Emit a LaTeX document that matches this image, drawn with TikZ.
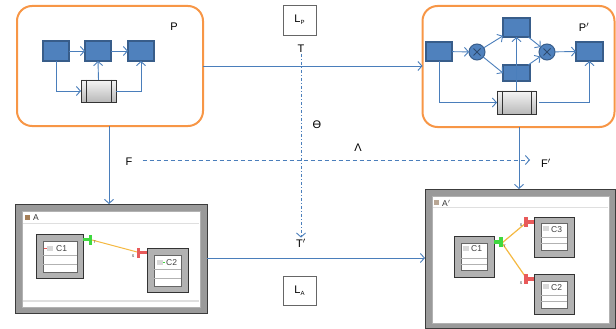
\documentclass[tikz,border=0pt]{standalone}
\usepackage{fontspec}
\setmainfont{Liberation Sans}
\usetikzlibrary{arrows.meta}
\definecolor{orng}{HTML}{F79646}
\definecolor{bfill}{HTML}{4F81BD}
\definecolor{bdark}{HTML}{385D8A}
\definecolor{lblue}{HTML}{4A7EBB}
\definecolor{frameg}{HTML}{9A9A9A}
\definecolor{framed}{HTML}{3C3C3C}
\definecolor{yel}{HTML}{F5B942}
\definecolor{grn}{HTML}{3FD83F}
\definecolor{rd}{HTML}{E85A5A}
\tikzset{
  orangebox/.style={draw=orng, line width=2pt, rounded corners=15pt, inner sep=0pt, outer sep=0pt},
  bsq/.style={draw=bdark, fill=bfill, line width=1.2pt, inner sep=0pt, outer sep=0pt},
  store/.style={draw=black!80, line width=0.6pt, top color=gray!8, bottom color=gray!55, inner sep=0pt, outer sep=0pt},
  xcirc/.style={circle, draw=bdark, fill=bfill, line width=1pt, minimum size=16pt, inner sep=0pt, outer sep=0pt,
    path picture={\draw[bdark!80!black, line width=0.8pt] (path picture bounding box.north west)++(4.5pt,-4.5pt) -- ++(7pt,-7pt)
      (path picture bounding box.north east)++(-4.5pt,-4.5pt) -- ++(-7pt,-7pt);}},
  flow/.style={draw=lblue, line width=0.9pt, -{Straight Barb[length=4pt,width=9pt]}},
  lbl/.style={font=\fontsize{11}{13}\selectfont, inner sep=1pt},
  lbox/.style={draw=black!60, line width=0.6pt, font=\fontsize{11}{13}\selectfont, inner sep=0pt, outer sep=0pt},
  winframe/.style={draw=framed, fill=frameg, line width=1pt, inner sep=0pt, outer sep=0pt},
  compframe/.style={draw=black!80, fill=gray!60, line width=0.8pt, inner sep=0pt, outer sep=0pt},
  ctext/.style={font=\fontsize{8.5}{10}\selectfont, text=black!75, inner sep=0pt},
  tiny/.style={font=\fontsize{5}{6}\selectfont, text=black!70, inner sep=0pt}
}
\begin{document}
\begin{tikzpicture}[x=1pt,y=-1pt]
\useasboundingbox (0,0) rectangle (616,329);

% ---------- P ----------
\node[orangebox, minimum width=186pt, minimum height=120pt] (P) at (110,66) {};
\node[lbl] (Pl) at (174,27) {P};
\node[bsq, minimum width=26pt, minimum height=20pt] (s1) at (56,51) {};
\node[bsq, minimum width=26pt, minimum height=20pt] (s2) at (98,51) {};
\node[bsq, minimum width=26pt, minimum height=20pt] (s3) at (141,51) {};
\node[store, minimum width=35pt, minimum height=22pt] (st1) at (98.5,91) {};
\draw[black!80, line width=0.6pt] ([xshift=5pt]st1.north west) -- ([xshift=5pt]st1.south west)
  ([xshift=-5pt]st1.north east) -- ([xshift=-5pt]st1.south east);
\draw[flow] (s1) -- (s2);
\draw[flow] (s2) -- (s3);
\draw[flow] (s1.south) |- (st1.west);
\draw[flow] (st1.north) -- (s2.south);
\draw[flow] (st1.east) -| (s3.south);

% ---------- P' ----------
\node[orangebox, minimum width=192pt, minimum height=121pt] (Pp) at (518.5,66.5) {};
\node[lbl] (Ppl) at (584,27) {P$'$};
\node[bsq, minimum width=26pt, minimum height=19pt] (a1) at (439,51.5) {};
\node[xcirc] (c1) at (477,52) {};
\node[bsq, minimum width=27pt, minimum height=19pt] (t1) at (516.5,27.5) {};
\node[bsq, minimum width=27pt, minimum height=16pt] (m1) at (516.5,73) {};
\node[xcirc] (c2) at (547,52) {};
\node[bsq, minimum width=27pt, minimum height=19pt] (r1) at (589.5,51.5) {};
\node[store, minimum width=39pt, minimum height=23pt] (st2) at (516.5,102.5) {};
\draw[black!80, line width=0.6pt] ([xshift=5pt]st2.north west) -- ([xshift=5pt]st2.south west)
  ([xshift=-5pt]st2.north east) -- ([xshift=-5pt]st2.south east);
\draw[flow] (a1) -- (c1);
\draw[flow] (c1) -- (t1);
\draw[flow] (c1) -- (m1.west);
\draw[flow] (t1) -- (c2);
\draw[flow] (m1) -- (c2);
\draw[flow] (c2) -- (r1.west);
\draw[flow] (st2.north) -- (t1.south);
\draw[flow] (a1.south) |- (st2.west);
\draw[flow] ([xshift=3pt]st2.east) -| (r1.south);

% ---------- labels in the middle ----------
\node[lbox, minimum width=33pt, minimum height=30pt] (LP) at (299.5,20) {L\raisebox{-0.35ex}{\fontsize{6}{7}\selectfont P}};
\node[lbox, minimum width=33pt, minimum height=29pt] (LA) at (299.5,290.5) {L\raisebox{-0.35ex}{\fontsize{6}{7}\selectfont A}};
\node[lbl] (T) at (301,49) {T};
\node[lbl] (Tp) at (301,243) {T$'$};
\node[lbl] (Th) at (317,125) {ϴ};
\node[lbl] (La) at (358,148) {Λ};
\node[lbl] (F) at (129,162) {F};
\node[lbl] (Fp) at (546,163) {F$'$};

% ---------- window A ----------
\node[winframe, minimum width=192pt, minimum height=109pt] (A) at (111,258.5) {};
\fill[white, draw=gray!60, line width=0.4pt] (22,211) rectangle (200,307);
\draw[gray!25, line width=1.5pt] (23,223.5) -- (199,223.5) (23,301) -- (199,301);
\fill[brown!60!gray] (25,215) rectangle (30,220);
\node[font=\fontsize{8.5}{10}\selectfont, text=black!80, anchor=west, inner sep=0pt] (At) at (33,218) {A};
\node[compframe, minimum width=47pt, minimum height=44pt] (Ac1) at (59.5,256) {};
\fill[white, draw=black!60, line width=0.4pt] (43,241) rectangle (77,272);
\draw[gray!60, line width=0.5pt] (43,255) -- (77,255) (43,264) -- (77,264);
\fill[gray!30] (47,246) rectangle (53,251);
\fill[rd] (44,248) rectangle (47,249);
\node[ctext, anchor=west] (Ac1t) at (56,248.5) {C1};
\node[compframe, minimum width=41pt, minimum height=44pt] (Ac2) at (167.5,270) {};
\fill[white, draw=black!60, line width=0.4pt] (154,255) rectangle (181,286);
\draw[gray!60, line width=0.5pt] (154,269) -- (181,269) (154,278) -- (181,278);
\fill[gray!30] (157,260) rectangle (163,265);
\fill[grn] (163,262) rectangle (165,263);
\node[ctext, anchor=west] (Ac2t) at (166,262.5) {C2};
% ports and connector
\coordinate (gpA) at (92,240);
\coordinate (rpA) at (139,252.5);
\draw[yel, line width=1pt] (gpA) -- (rpA);
\fill[grn] (83,237.5) rectangle (90,240.5);
\fill[grn] (89,235) rectangle (92,245);
\fill[rd] (140,250.5) rectangle (147,253.5);
\fill[rd] (137,248) rectangle (140,258);
\node[tiny] at (95,242.5) {r};
\node[tiny] at (133,256) {s};

% ---------- window A' ----------
\node[winframe, minimum width=190pt, minimum height=139pt] (Ap) at (520,258.5) {};
\fill[white, draw=gray!60, line width=0.4pt] (432,196) rectangle (609,323);
\draw[gray!25, line width=1pt] (433,207.5) -- (608,207.5);
\fill[brown!40!gray!70] (434,200) rectangle (439,205);
\node[font=\fontsize{8.5}{10}\selectfont, text=black!80, anchor=west, inner sep=0pt] (Apt) at (442,203) {A$'$};
% C1
\node[compframe, minimum width=40pt, minimum height=41pt] (Bc1) at (474,256.5) {};
\fill[white, draw=black!60, line width=0.4pt] (461,243) rectangle (487,270);
\draw[gray!60, line width=0.5pt] (461,258) -- (487,258) (461,264) -- (487,264);
\fill[gray!30] (463,246) rectangle (469,251);
\node[ctext, anchor=west] (Bc1t) at (471,249) {C1};
% C3
\node[compframe, minimum width=40pt, minimum height=40pt] (Bc3) at (554,237) {};
\fill[white, draw=black!60, line width=0.4pt] (541,223) rectangle (567,250);
\draw[gray!60, line width=0.5pt] (541,237) -- (567,237) (541,243) -- (567,243);
\fill[gray!30] (543,226) rectangle (549,231);
\node[ctext, anchor=west] (Bc3t) at (551,229.5) {C3};
% C2
\node[compframe, minimum width=40pt, minimum height=40pt] (Bc2) at (554,294) {};
\fill[white, draw=black!60, line width=0.4pt] (541,281) rectangle (567,308);
\draw[gray!60, line width=0.5pt] (541,295) -- (567,295) (541,301) -- (567,301);
\fill[gray!30] (543,284) rectangle (549,289);
\node[ctext, anchor=west] (Bc2t) at (551,287.5) {C2};
% ports and connectors
\coordinate (gpB) at (502,243);
\coordinate (rpB3) at (527,222);
\coordinate (rpB2) at (527,279);
\draw[yel, line width=1.2pt] (gpB) -- (rpB3) (gpB) -- (rpB2);
\fill[grn] (494,240) rectangle (501,243.5);
\fill[grn] (499,237) rectangle (503,247);
\fill[rd] (527,220) rectangle (534,223.5);
\fill[rd] (524,217) rectangle (528,227);
\fill[rd] (527,277) rectangle (534,280.5);
\fill[rd] (524,274) rectangle (528,284);
\node[tiny] at (521,225) {s};
\node[tiny] at (521,283) {s};
\node[tiny] at (505,246) {r};

% ---------- main connectors ----------
\coordinate (vl) at (109,0);
\coordinate (vr) at (519,0);
\coordinate (hb) at (0,258);
\coordinate (fe) at (530,160);
\draw[flow] (P.south -| vl) -- (vl |- A.north);
\draw[flow] (Pp.south -| vr) -- (vr |- Ap.north);
\draw[flow] (P.east) -- (P.east -| Pp.west);
\draw[flow, dash pattern=on 3pt off 2pt on 1pt off 2pt] (T.south) -- (Tp.north);
\draw[flow, dash pattern=on 4pt off 3pt, shorten <=9pt] (F.east |- fe) -- (fe);
\draw[flow] (A.east |- hb) -- (Ap.west |- hb);
\end{tikzpicture}
\end{document}
